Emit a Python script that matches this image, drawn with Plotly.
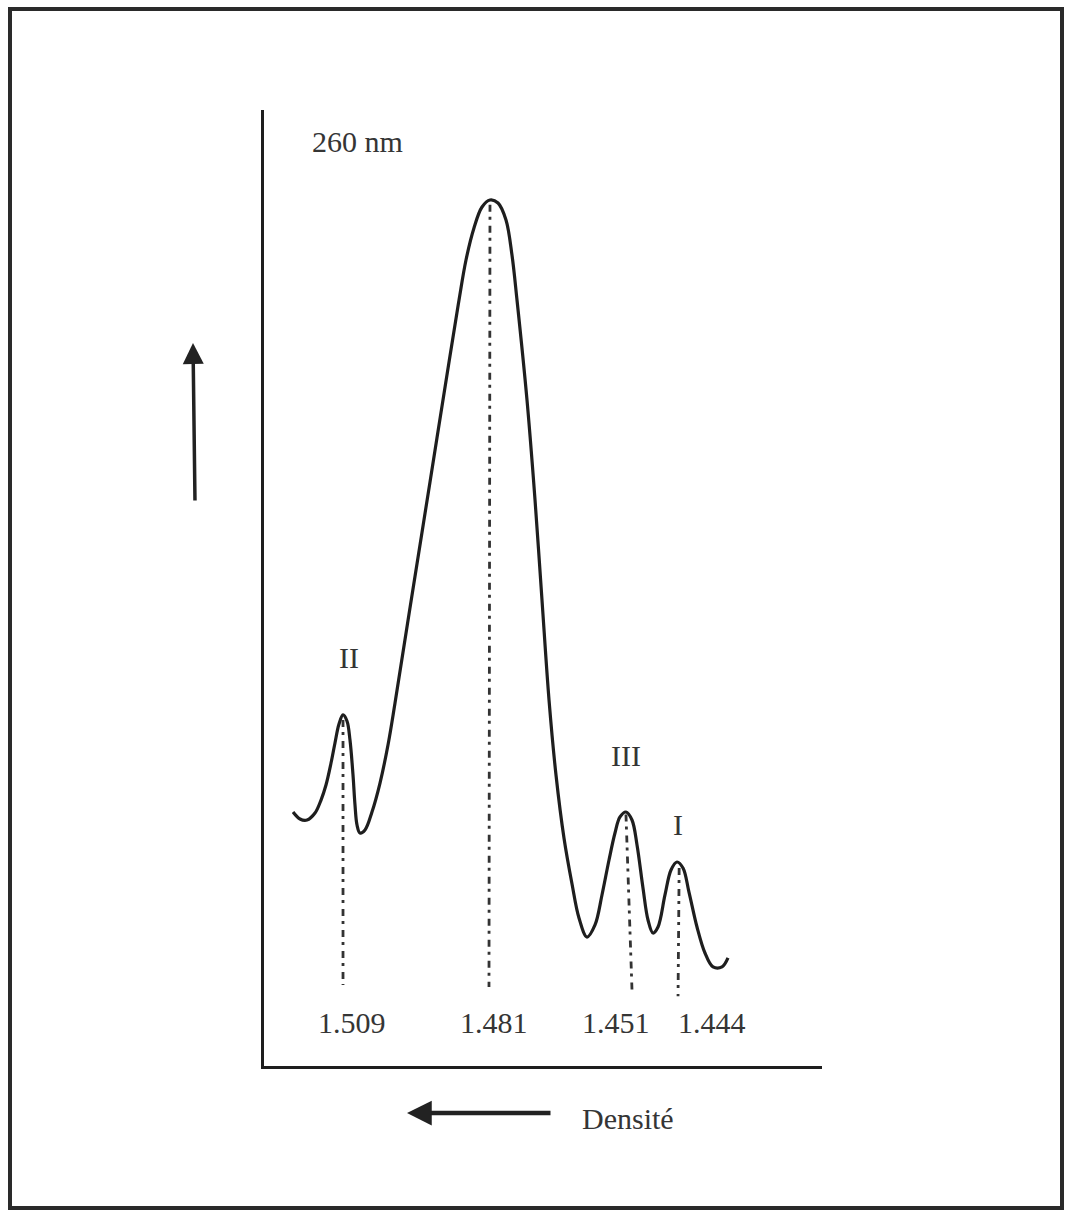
import plotly.graph_objects as go

# ---- data (position along gradient in arbitrary units, absorbance at 260 nm in a.u.) ----
pos = [5.20, 6.45, 7.71, 9.14, 10.22, 11.11, 12.01, 12.72, 13.44, 14.16, 14.87, 15.41, 15.95,
       16.31, 16.67, 17.20, 18.10, 19.35, 20.79, 22.22, 23.48, 26.16, 29.75, 33.33, 34.95,
       36.20, 37.63, 39.07, 40.50, 41.94, 43.37, 44.44, 45.34, 47.13, 48.57, 49.82, 51.08,
       52.33, 53.76, 55.20, 56.45, 57.89, 59.32, 60.57, 61.83, 62.90, 63.80, 64.87, 65.95,
       66.85, 67.92, 68.82, 69.71, 70.61, 71.86, 72.94, 74.01, 75.09, 76.16, 77.60, 79.03,
       80.47, 82.08, 83.15]
absorb = [26.57, 25.84, 25.73, 26.46, 27.82, 29.39, 31.69, 33.79, 35.77, 36.72, 36.09, 34.10, 30.44,
          27.30, 25.21, 24.37, 24.69, 26.57, 29.60, 33.58, 37.97, 47.91, 61.09, 74.27, 80.13,
          84.31, 87.66, 89.85, 90.59, 90.27, 88.49, 84.83, 80.13, 69.67, 59.21, 48.74, 38.28,
          30.44, 23.85, 19.04, 15.48, 13.49, 14.75, 17.89, 21.55, 24.37, 26.05, 26.57, 25.73,
          23.12, 18.62, 15.27, 13.91, 14.54, 17.89, 20.50, 21.34, 20.71, 18.20, 14.54, 11.82,
          10.36, 10.36, 11.30]

densities = ["1.509", "1.481", "1.451", "1.444"]
peak_names = ["II", "", "III", "I"]
drop_x_top = [14.16, 40.50, 64.87, 74.40]
drop_y_top = [36.2, 90.1, 26.3, 20.7]
drop_x_bottom = [14.16, 40.32, 65.95, 74.20]
drop_y_bottom = [8.47, 8.26, 7.95, 7.30]
density_label_x = [15.77, 41.22, 63.08, 80.29]
density_label_y = 4.5
peak_label_x = [15.23, None, 64.87, 74.19]
peak_label_y = [42.68, None, 32.53, 25.21]

SW, SH = 1066, 1213
L, R, T, B = 264, 822, 110, 1066      # plot area edges on the page
FONT = "Liberation Serif, Times New Roman, serif"
INK = "#1e1e1e"
TXT = "#353535"
FS = 30

fig = go.Figure()

for i in range(len(densities)):
    fig.add_trace(go.Scatter(
        x=[drop_x_top[i], drop_x_bottom[i]], y=[drop_y_top[i], drop_y_bottom[i]],
        mode="lines", line=dict(color="#333333", width=2.8, dash="7px,5px,3px,6px"),
        hoverinfo="skip", showlegend=False))

fig.add_trace(go.Scatter(x=pos, y=absorb, mode="lines",
                         line=dict(color=INK, width=3.2, shape="spline", smoothing=1.0),
                         hoverinfo="skip", showlegend=False))

ann = []
for i, d in enumerate(densities):
    ann.append(dict(x=density_label_x[i], y=density_label_y, xref="x", yref="y", text=d,
                    xanchor="center", yanchor="middle", showarrow=False,
                    font=dict(family=FONT, size=FS, color=TXT)))
    if peak_names[i]:
        ann.append(dict(x=peak_label_x[i], y=peak_label_y[i], xref="x", yref="y",
                        text=peak_names[i], xanchor="center", yanchor="middle",
                        showarrow=False, font=dict(family=FONT, size=FS, color=TXT)))

def px_x(p):
    return (p - L) / (R - L)

def px_y(p):
    return (B - p) / (B - T)

ann.append(dict(x=px_x(357), y=px_y(142), xref="paper", yref="paper", text="260 nm",
                xanchor="center", yanchor="middle", showarrow=False,
                font=dict(family=FONT, size=FS, color=TXT)))
ann.append(dict(x=px_x(628), y=px_y(1118), xref="paper", yref="paper", text="Densité",
                xanchor="center", yanchor="middle", showarrow=False,
                font=dict(family=FONT, size=FS, color=TXT)))
ann.append(dict(x=px_x(193), y=px_y(343), xref="paper", yref="paper", ax=2, ay=159,
                text="", showarrow=True, arrowhead=2, arrowsize=1.2, arrowwidth=3.5,
                arrowcolor="#222222"))
ann.append(dict(x=px_x(407), y=px_y(1113), xref="paper", yref="paper", ax=145, ay=0,
                text="", showarrow=True, arrowhead=2, arrowsize=1.1, arrowwidth=4.5,
                arrowcolor="#222222"))

fig.update_layout(
    width=SW, height=SH,
    margin=dict(l=L, r=SW - R, t=T, b=SH - B, pad=0),
    paper_bgcolor="white", plot_bgcolor="white",
    annotations=ann,
    shapes=[dict(type="rect", xref="paper", yref="paper",
                 x0=px_x(10), x1=px_x(1062), y0=px_y(1208), y1=px_y(9),
                 line=dict(color="#2a2a2a", width=4), fillcolor="rgba(0,0,0,0)")],
    xaxis=dict(range=[0, 100], showline=True, linewidth=3, linecolor=INK, mirror=False,
               showgrid=False, zeroline=False, showticklabels=False, ticks=""),
    yaxis=dict(range=[0, 100], showline=True, linewidth=3, linecolor=INK, mirror=False,
               showgrid=False, zeroline=False, showticklabels=False, ticks=""),
    showlegend=False,
    hovermode=False,
)

fig.write_html("out.html",
               config={"displayModeBar": False, "staticPlot": True},
               post_script="document.body.style.margin='0px';"
                           "document.body.style.overflow='hidden';")
